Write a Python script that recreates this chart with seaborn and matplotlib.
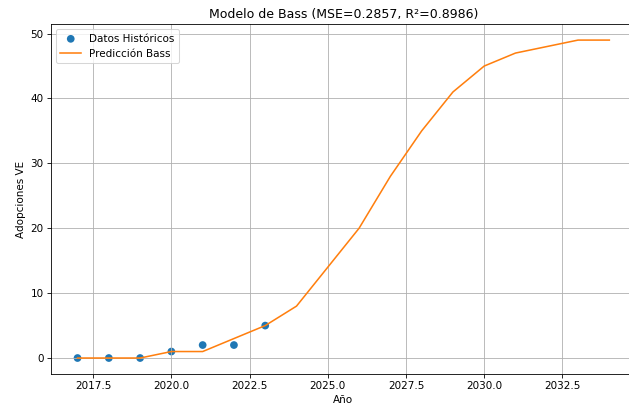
import numpy as np
import pandas as pd
import seaborn as sns
from matplotlib import pyplot as plt

# historical adoptions
years_hist = [2017, 2018, 2019, 2020, 2021, 2022, 2023]
adopt_hist = [0, 0, 0, 1, 2, 2, 5]

# Bass model prediction
years_pred = list(range(2017, 2035))
adopt_pred = [0, 0, 0, 1, 1, 3, 5, 8, 14, 20, 28, 35, 41, 45, 47, 48, 49, 49]

hist = pd.DataFrame({"year": years_hist, "adopt": adopt_hist})
pred = pd.DataFrame({"year": years_pred, "adopt": adopt_pred})

fig = plt.figure(figsize=(629 / 75, 410 / 75), dpi=75)
ax = plt.gca()
sns.scatterplot(x="year", y="adopt", data=hist, color="#1f77b4", s=55,
                edgecolor="none", label="Datos Históricos", ax=ax)
sns.lineplot(x="year", y="adopt", data=pred, color="#ff7f0e", linewidth=1.5,
             label="Predicción Bass", ax=ax)
ax.set_title("Modelo de Bass (MSE=0.2857, R²=0.8986)")
ax.set_xlabel("Año")
ax.set_ylabel("Adopciones VE")
ax.grid(True)
ax.legend(loc="upper left")
plt.subplots_adjust(left=0.081, right=1.011, top=0.941, bottom=0.088)
plt.savefig("out.png")
